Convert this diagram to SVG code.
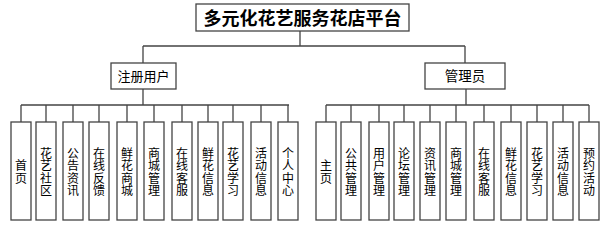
<svg xmlns="http://www.w3.org/2000/svg" width="605" height="229" viewBox="0 0 605 229">
<style>
.box{fill:#fff;stroke:#444;stroke-width:1.3}
.ln{fill:none;stroke:#444;stroke-width:1.3}
.t{font-family:"Noto Sans CJK SC","Noto Sans",sans-serif;fill:#000;text-anchor:middle}
.v{font-size:12px;writing-mode:vertical-rl;letter-spacing:0.4px}
</style>
<rect width="605" height="229" fill="#fff"/>
<g id="connectors">
<path class="ln" d="M300,31V46M143,46H465M143,46V63M465,46V63"/>
<path class="ln" d="M143,89V105M21,105H289M21,105V122M46,105V122M73,105V122M99,105V122M127,105V122M154,105V122M182,105V122M208,105V122M233,105V122M261,105V122M288,105V122"/>
<path class="ln" d="M466,89V105M326,105H589M326,105V122M351,105V122M379,105V122M404,105V122M430,105V122M456,105V122M484,105V122M511,105V122M537,105V122M563,105V122M589,105V122"/>
</g>
<g id="root"><rect class="box" x="196" y="4" width="213" height="27"/><text class="t" x="302.5" y="24.5" font-size="18" font-weight="bold">多元化花艺服务花店平台</text></g>
<g id="user"><rect class="box" x="111" y="63" width="65" height="26"/><text class="t" x="143.5" y="81" font-size="13">注册用户</text></g>
<g id="admin"><rect class="box" x="425" y="63" width="80" height="26"/><text class="t" x="465" y="81" font-size="13.5">管理员</text></g>

<g id="u1"><rect class="box" x="11" y="122" width="20" height="98"/><text class="t v" x="21" y="172">首页</text></g>
<g id="u2"><rect class="box" x="36" y="122" width="20" height="98"/><text class="t v" x="46" y="172">花艺社区</text></g>
<g id="u3"><rect class="box" x="63" y="122" width="20" height="98"/><text class="t v" x="73" y="172">公告资讯</text></g>
<g id="u4"><rect class="box" x="89" y="122" width="20" height="98"/><text class="t v" x="99" y="172">在线反馈</text></g>
<g id="u5"><rect class="box" x="117" y="122" width="20" height="98"/><text class="t v" x="127" y="172">鲜花商城</text></g>
<g id="u6"><rect class="box" x="144" y="122" width="20" height="98"/><text class="t v" x="154" y="172">商城管理</text></g>
<g id="u7"><rect class="box" x="172" y="122" width="20" height="98"/><text class="t v" x="182" y="172">在线客服</text></g>
<g id="u8"><rect class="box" x="198" y="122" width="20" height="98"/><text class="t v" x="208" y="172">鲜花信息</text></g>
<g id="u9"><rect class="box" x="223" y="122" width="20" height="98"/><text class="t v" x="233" y="172">花艺学习</text></g>
<g id="u10"><rect class="box" x="251" y="122" width="20" height="98"/><text class="t v" x="261" y="172">活动信息</text></g>
<g id="u11"><rect class="box" x="278" y="122" width="20" height="98"/><text class="t v" x="288" y="172">个人中心</text></g>

<g id="a1"><rect class="box" x="316" y="122" width="20" height="98"/><text class="t v" x="326" y="172">主页</text></g>
<g id="a2"><rect class="box" x="341" y="122" width="20" height="98"/><text class="t v" x="351" y="172">公共管理</text></g>
<g id="a3"><rect class="box" x="369" y="122" width="20" height="98"/><text class="t v" x="379" y="172">用户管理</text></g>
<g id="a4"><rect class="box" x="394" y="122" width="20" height="98"/><text class="t v" x="404" y="172">论坛管理</text></g>
<g id="a5"><rect class="box" x="420" y="122" width="20" height="98"/><text class="t v" x="430" y="172">资讯管理</text></g>
<g id="a6"><rect class="box" x="446" y="122" width="20" height="98"/><text class="t v" x="456" y="172">商城管理</text></g>
<g id="a7"><rect class="box" x="474" y="122" width="20" height="98"/><text class="t v" x="484" y="172">在线客服</text></g>
<g id="a8"><rect class="box" x="501" y="122" width="20" height="98"/><text class="t v" x="511" y="172">鲜花信息</text></g>
<g id="a9"><rect class="box" x="527" y="122" width="20" height="98"/><text class="t v" x="537" y="172">花艺学习</text></g>
<g id="a10"><rect class="box" x="553" y="122" width="20" height="98"/><text class="t v" x="563" y="172">活动信息</text></g>
<g id="a11"><rect class="box" x="579" y="122" width="20" height="98"/><text class="t v" x="589" y="172">预约活动</text></g>
</svg>
